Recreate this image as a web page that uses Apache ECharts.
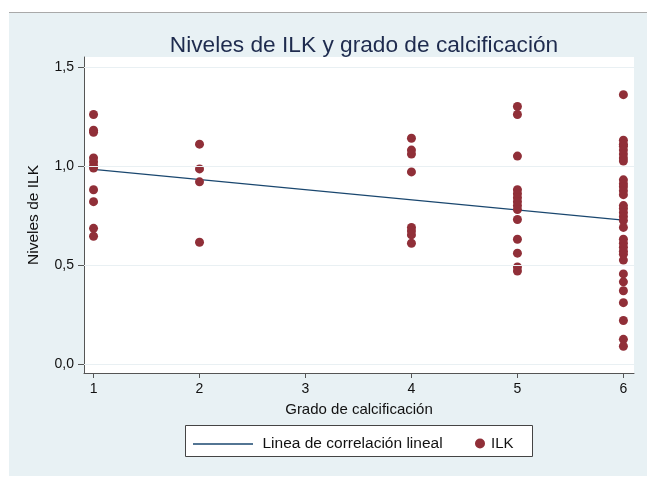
<!DOCTYPE html>
<html>
<head>
<meta charset="utf-8">
<script src="https://cdn.jsdelivr.net/npm/echarts@6/dist/echarts.min.js"></script>
<style>
  html, body { margin: 0; padding: 0; background: #ffffff; }
  #bg { position: absolute; left: 9px; top: 12px; width: 638px; height: 464px; background: #e8f1f4; border-top: 1px solid #a9a9a9; box-sizing: border-box; }
  #chart { position: absolute; left: 0; top: 0; width: 647px; height: 477px; }
</style>
</head>
<body>
<div id="bg"></div>
<div id="chart"></div>
<script>
// Data
const grado1 = [1.26, 1.18, 1.17, 1.04, 1.02, 1.00, 0.99, 0.88, 0.82, 0.685, 0.645];
const grado2 = [1.11, 0.985, 0.92, 0.615];
const grado4 = [1.14, 1.08, 1.06, 0.97, 0.69, 0.672, 0.652, 0.61];
const grado5 = [1.30, 1.26, 1.05, 0.88, 0.86, 0.84, 0.82, 0.80, 0.78, 0.73, 0.63, 0.56, 0.49, 0.47];
const grado6 = [1.36, 1.13, 1.11, 1.10, 1.08, 1.06, 1.04, 1.025, 0.93, 0.91, 0.895, 0.875, 0.855,
                0.80, 0.785, 0.765, 0.745, 0.725, 0.69, 0.63, 0.61, 0.59, 0.57, 0.555, 0.525,
                0.455, 0.415, 0.37, 0.31, 0.22, 0.125, 0.09];
const regX = [1, 6];
const regY = [0.983, 0.727];
const xTicks = [1, 2, 3, 4, 5, 6];
const yTicks = [0, 0.5, 1, 1.5];

const groups = [[1, grado1], [2, grado2], [4, grado4], [5, grado5], [6, grado6]];
const ilk = [];
groups.forEach(([g, vals]) => vals.forEach(v => ilk.push([g, v])));
const reg = regX.map((x, i) => [x, regY[i]]);

const FONT = 'Liberation Sans, Arial, Helvetica, sans-serif';
const chart = echarts.init(document.getElementById('chart'), null, { renderer: 'canvas' });
chart.setOption({
  backgroundColor: 'transparent',
  animation: false,
  title: {
    text: 'Niveles de ILK y grado de calcificación',
    left: 359, top: 29, textAlign: 'center',
    textStyle: { fontFamily: FONT, fontSize: 22.7, fontWeight: 'normal', color: '#1e2b4e' }
  },
  grid: { left: 84, top: 57, right: 13, bottom: 104, show: true, backgroundColor: '#ffffff', borderWidth: 0 },
  xAxis: {
    type: 'value', min: 0.91, max: 6.1,
    name: 'Grado de calcificación', nameLocation: 'middle', nameGap: 29,
    nameTextStyle: { fontFamily: FONT, fontSize: 15, color: '#111' },
    axisLine: { show: true, onZero: false, lineStyle: { color: '#555', width: 1 } },
    axisTick: { show: true, length: 5, customValues: xTicks, lineStyle: { color: '#555' } },
    axisLabel: { customValues: xTicks, fontFamily: FONT, fontSize: 14, color: '#111', margin: 9,
                 formatter: v => String(v) },
    splitLine: { show: false }
  },
  yAxis: {
    type: 'value', min: -0.045, max: 1.55,
    name: 'Niveles de ILK', nameLocation: 'middle', nameGap: 42, nameRotate: 90,
    nameTextStyle: { fontFamily: FONT, fontSize: 15.5, color: '#111' },
    axisLine: { show: true, onZero: false, lineStyle: { color: '#555', width: 1 } },
    axisTick: { show: true, length: 6, customValues: yTicks, lineStyle: { color: '#555' } },
    axisLabel: { customValues: yTicks, fontFamily: FONT, fontSize: 14, color: '#111', margin: 10,
                 formatter: v => v.toFixed(1).replace('.', ',') },
    splitLine: { show: false }
  },
  legend: [
    {
      data: [{ name: 'Linea de correlación lineal', icon: 'path://M0,0H60V1.4H0Z',
               itemStyle: { color: '#1a476f' } }],
      left: 188, top: 431, itemWidth: 61, itemHeight: 1.4, itemGap: 10,
      textStyle: { fontFamily: FONT, fontSize: 15.5, color: '#111', padding: [0, 0, 0, 4] }
    },
    {
      data: [{ name: 'ILK', icon: 'circle' }],
      left: 470, top: 431, itemWidth: 10, itemHeight: 10, itemGap: 10,
      textStyle: { fontFamily: FONT, fontSize: 15, color: '#111', padding: [0, 0, 0, 1] }
    }
  ],
  graphic: [
    { type: 'rect', shape: { x: 185.5, y: 425.5, width: 347, height: 31 }, z: -1,
      style: { fill: '#ffffff', stroke: '#444', lineWidth: 1 } }
  ],
  series: [
    {
      name: 'Linea de correlación lineal', type: 'line', data: reg,
      symbol: 'none', showSymbol: false, z: 1,
      lineStyle: { color: '#1a476f', width: 1.3 },
      itemStyle: { color: '#1a476f' },
      markLine: {
        silent: true, symbol: 'none', label: { show: false },
        lineStyle: { color: '#e9f0f3', width: 1, type: 'solid' },
        data: yTicks.map(v => ({ yAxis: v }))
      }
    },
    {
      name: 'ILK', type: 'scatter', data: ilk, symbol: 'circle', symbolSize: 9, z: 3,
      itemStyle: { color: '#902f38', opacity: 1 }
    }
  ]
});
</script>
</body>
</html>
